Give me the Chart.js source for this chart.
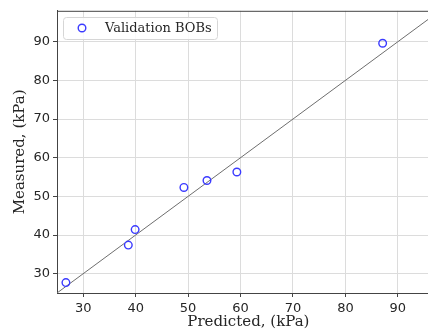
<!DOCTYPE html>
<html><head><meta charset="utf-8">
<script src="https://cdn.jsdelivr.net/npm/chart.js@4/dist/chart.umd.min.js"></script>
<style>
html,body{margin:0;padding:0;background:#fff;overflow:hidden}
#wrap{position:relative;width:428px;height:332px;overflow:hidden;background:#fff}
#wrap canvas{position:absolute;left:0;top:0}
</style></head><body>
<div id="wrap"><canvas id="c" width="445" height="332" style="width:445px;height:332px"></canvas></div>
<script>
// ---- data ----
const predicted = [26.7, 38.6, 39.9, 49.2, 53.6, 59.3, 87.1];
const measured  = [27.7, 37.4, 41.4, 52.3, 54.1, 56.3, 89.6];
const seriesLabel = 'Validation BOBs';
const identityX = [25, 98];
const identityY = [25, 98];
const xTickValues = [30, 40, 50, 60, 70, 80, 90];
const yTickValues = [30, 40, 50, 60, 70, 80, 90];
const xTitle = 'Predicted, (kPa)';
const yTitle = 'Measured, (kPa)';

const scatterPts = predicted.map((x, i) => ({x, y: measured[i]}));
const linePts = identityX.map((x, i) => ({x, y: identityY[i]}));

const topBorder = {
  id: 'topBorder',
  afterDraw(chart) {
    const {ctx, chartArea: a} = chart;
    ctx.save();
    ctx.strokeStyle = '#444';
    ctx.lineWidth = 1;
    ctx.beginPath();
    ctx.moveTo(a.left, a.top + 0.5);
    ctx.lineTo(a.right, a.top + 0.5);
    ctx.stroke();
    ctx.restore();
  }
};

const insideLegend = {
  id: 'insideLegend',
  afterDraw(chart) {
    const {ctx} = chart;
    const ds = chart.data.datasets[0];
    ctx.save();
    const x0 = 63.5, y0 = 17.5, w = 154, h = 22, r = 3;
    ctx.beginPath();
    ctx.moveTo(x0 + r, y0);
    ctx.arcTo(x0 + w, y0, x0 + w, y0 + h, r);
    ctx.arcTo(x0 + w, y0 + h, x0, y0 + h, r);
    ctx.arcTo(x0, y0 + h, x0, y0, r);
    ctx.arcTo(x0, y0, x0 + w, y0, r);
    ctx.closePath();
    ctx.fillStyle = 'rgba(255,255,255,0.85)';
    ctx.fill();
    ctx.strokeStyle = '#d6d6d6';
    ctx.lineWidth = 1;
    ctx.stroke();
    ctx.beginPath();
    ctx.arc(82, 28, 3.8, 0, Math.PI * 2);
    ctx.strokeStyle = ds.borderColor;
    ctx.lineWidth = ds.borderWidth;
    ctx.stroke();
    ctx.fillStyle = '#262626';
    ctx.font = '13px "DejaVu Serif"';
    ctx.textBaseline = 'middle';
    ctx.textAlign = 'left';
    ctx.fillText(ds.label, 105, 28.5);
    ctx.restore();
  }
};

const tickFont = {family: '"DejaVu Sans"', size: 13};
const titleFont = {family: '"DejaVu Serif"', size: 15};

new Chart(document.getElementById('c'), {
  type: 'scatter',
  data: {
    datasets: [
      {
        label: seriesLabel,
        data: scatterPts,
        pointStyle: 'circle',
        pointRadius: 3.8,
        pointHoverRadius: 3.8,
        borderColor: '#3b3bff',
        backgroundColor: 'rgba(0,0,0,0)',
        borderWidth: 1.4,
        order: 1
      },
      {
        label: 'identity',
        data: linePts,
        showLine: true,
        borderColor: '#6e6e6e',
        borderWidth: 1,
        pointRadius: 0,
        order: 2
      }
    ]
  },
  options: {
    responsive: false,
    animation: false,
    events: [],
    layout: {padding: {top: 10, right: 4, left: 0, bottom: 0}},
    plugins: {legend: {display: false}, tooltip: {enabled: false}},
    scales: {
      x: {
        type: 'linear',
        min: identityX[0], max: identityX[1],
        afterBuildTicks: s => { s.ticks = xTickValues.map(v => ({value: v})); },
        afterFit: s => { s.height = 39; },
        grid: {color: '#dcdcdc', lineWidth: 1, tickColor: '#444', tickLength: 4},
        border: {color: '#444', width: 1},
        ticks: {font: tickFont, color: '#262626', padding: 4, maxRotation: 0},
        title: {display: true, text: xTitle, font: titleFont, color: '#262626', padding: {top: 0, bottom: 1}}
      },
      y: {
        type: 'linear',
        min: identityY[0], max: identityY[1],
        afterBuildTicks: s => { s.ticks = yTickValues.map(v => ({value: v})); },
        afterFit: s => { s.width = 57; },
        grid: {color: '#dcdcdc', lineWidth: 1, tickColor: '#444', tickLength: 4},
        border: {color: '#444', width: 1},
        ticks: {font: tickFont, color: '#262626', padding: 3},
        title: {display: true, text: yTitle, font: titleFont, color: '#262626', padding: {top: 11, bottom: 0}}
      }
    }
  },
  plugins: [topBorder, insideLegend]
});
</script>
</body></html>
